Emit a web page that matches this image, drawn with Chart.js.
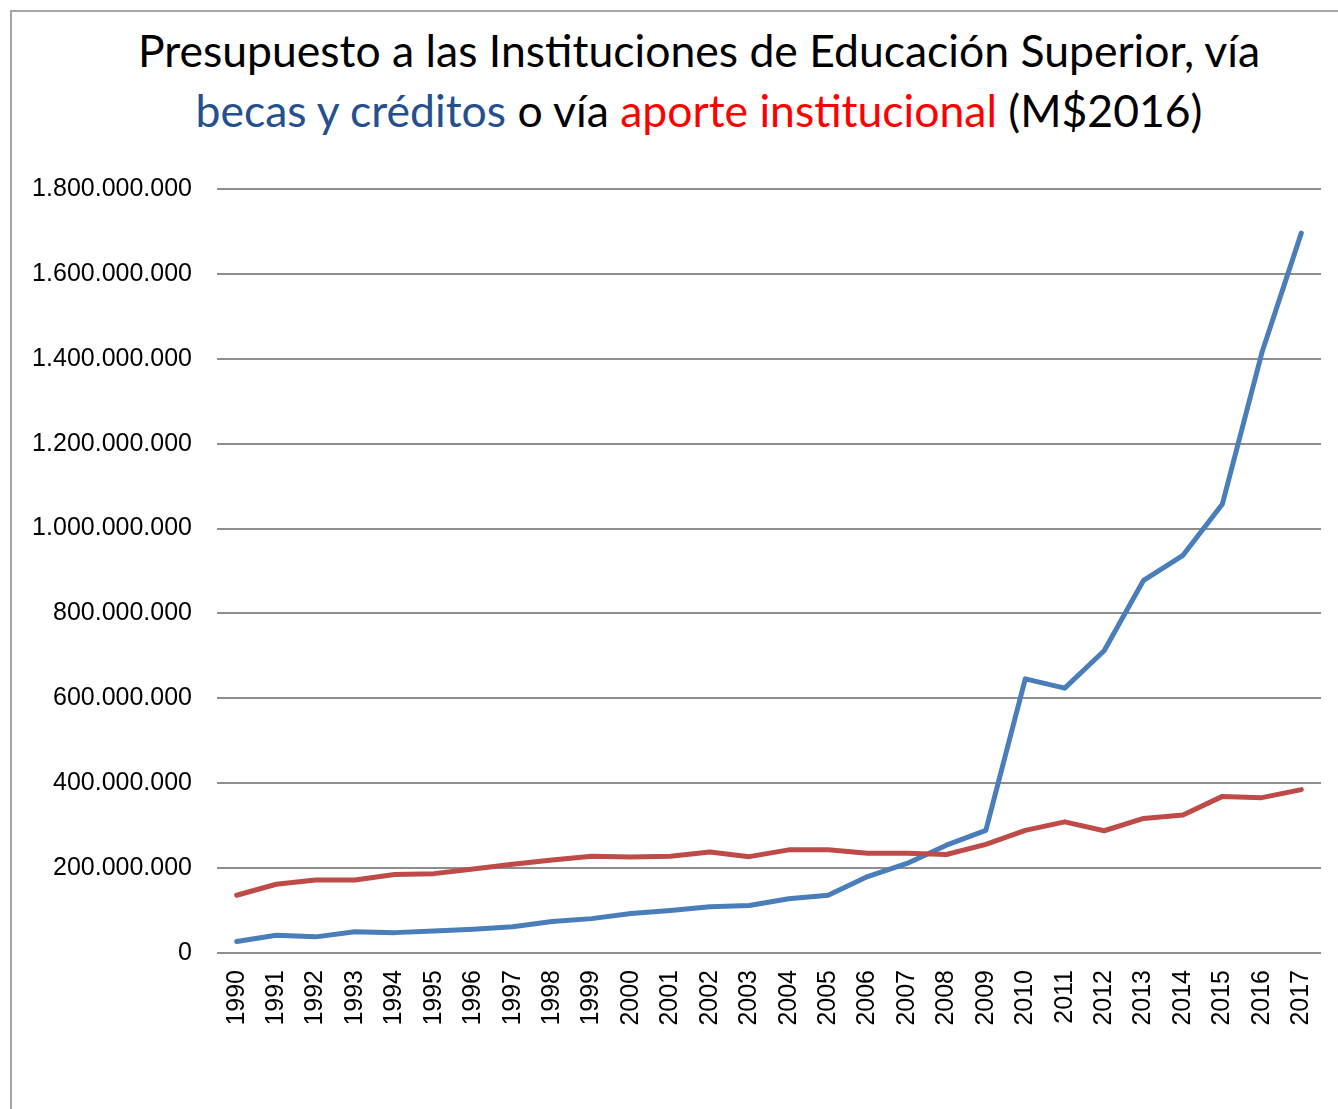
<!DOCTYPE html>
<html>
<head>
<meta charset="utf-8">
<script src="https://cdn.jsdelivr.net/npm/chart.js@4/dist/chart.umd.min.js"></script>
<style>
  html, body { margin: 0; padding: 0; background: #fff; overflow: hidden; }
  #marco {
    position: absolute; left: 10px; top: 10px; width: 2000px; height: 2000px;
    border-left: 2px solid #a6a6a6; border-top: 2px solid #a6a6a6;
  }
  #titulo {
    position: absolute; left: 0; top: 20px; width: 1398px;
    text-align: center; font-family: Lato, sans-serif; font-size: 44.5px;
    line-height: 60px; color: #000; white-space: nowrap;
  }
  .azul { color: #24508f; }
  .rojo { color: #ff0000; }
  #grafico { position: absolute; left: 0; top: 0; }
</style>
</head>
<body>
<div id="marco"></div>
<div id="titulo">
  Presupuesto a las Instituciones de Educación Superior, vía<br>
  <span class="azul">becas y créditos</span> o vía <span class="rojo">aporte institucional</span> (M$2016)
</div>
<canvas id="grafico" width="1338" height="1109"></canvas>
<script>
/* ================= DATOS ================= */

const anios = ["1990","1991","1992","1993","1994","1995","1996","1997","1998","1999",
  "2000","2001","2002","2003","2004","2005","2006","2007","2008","2009",
  "2010","2011","2012","2013","2014","2015","2016","2017"];

const becasCreditos = [27e6, 42e6, 38e6, 50e6, 48e6, 52e6, 56e6, 62e6, 74e6, 81e6,
  93e6, 100e6, 109e6, 112e6, 128e6, 136e6, 180e6, 211e6, 254e6, 289e6,
  646e6, 624e6, 712e6, 878e6, 937e6, 1058e6, 1414e6, 1696e6];

const aporteInstitucional = [136e6, 162e6, 172e6, 172e6, 185e6, 187e6, 198e6, 209e6, 219e6, 228e6,
  226e6, 228e6, 238e6, 227e6, 243e6, 243e6, 235e6, 235e6, 232e6, 256e6,
  289e6, 309e6, 288e6, 317e6, 325e6, 369e6, 366e6, 385e6];

const ejeYMax = 1800000000;
const ejeYPaso = 200000000;

/* ================= UTIL ================= */

function formatoPuntos(valor) {
  return String(Math.round(valor)).replace(/\B(?=(\d{3})+(?!\d))/g, ".");
}

/* ================= GRÁFICO ================= */

const fuenteEjes = { family: "'Liberation Sans', Arial, sans-serif", size: 25 };

new Chart(document.getElementById("grafico"), {
  type: "line",
  data: {
    labels: anios,
    datasets: [
      {
        label: "becas y créditos",
        data: becasCreditos,
        borderColor: "#4a7ebb",
        borderWidth: 5,
        pointRadius: 0,
        tension: 0,
        borderCapStyle: "round",
        borderJoinStyle: "round",
        order: 1
      },
      {
        label: "aporte institucional",
        data: aporteInstitucional,
        borderColor: "#be4b48",
        borderWidth: 5,
        pointRadius: 0,
        tension: 0,
        borderCapStyle: "round",
        borderJoinStyle: "round",
        order: 0
      }
    ]
  },
  options: {
    responsive: false,
    animation: false,
    layout: { padding: { top: 189, right: 17, left: 0, bottom: 0 } },
    plugins: { legend: { display: false }, tooltip: { enabled: false } },
    scales: {
      x: {
        offset: true,
        grid: { display: false, drawTicks: false },
        border: { display: false },
        ticks: {
          color: "#000",
          font: fuenteEjes,
          minRotation: 90,
          maxRotation: 90,
          padding: 17,
          autoSkip: false
        },
        afterFit: s => {
          s.height = 156;
          s.paddingLeft = 0;
          s.paddingRight = 0;
        }
      },
      y: {
        min: 0,
        max: ejeYMax,
        grid: { color: "#8e8e8e", lineWidth: 2, drawTicks: false },
        border: { display: false },
        ticks: {
          stepSize: ejeYPaso,
          color: "#000",
          font: fuenteEjes,
          padding: 25,
          callback: v => formatoPuntos(v)
        },
        afterFit: s => { s.width = 217; }
      }
    }
  }
});
</script>
</body>
</html>
